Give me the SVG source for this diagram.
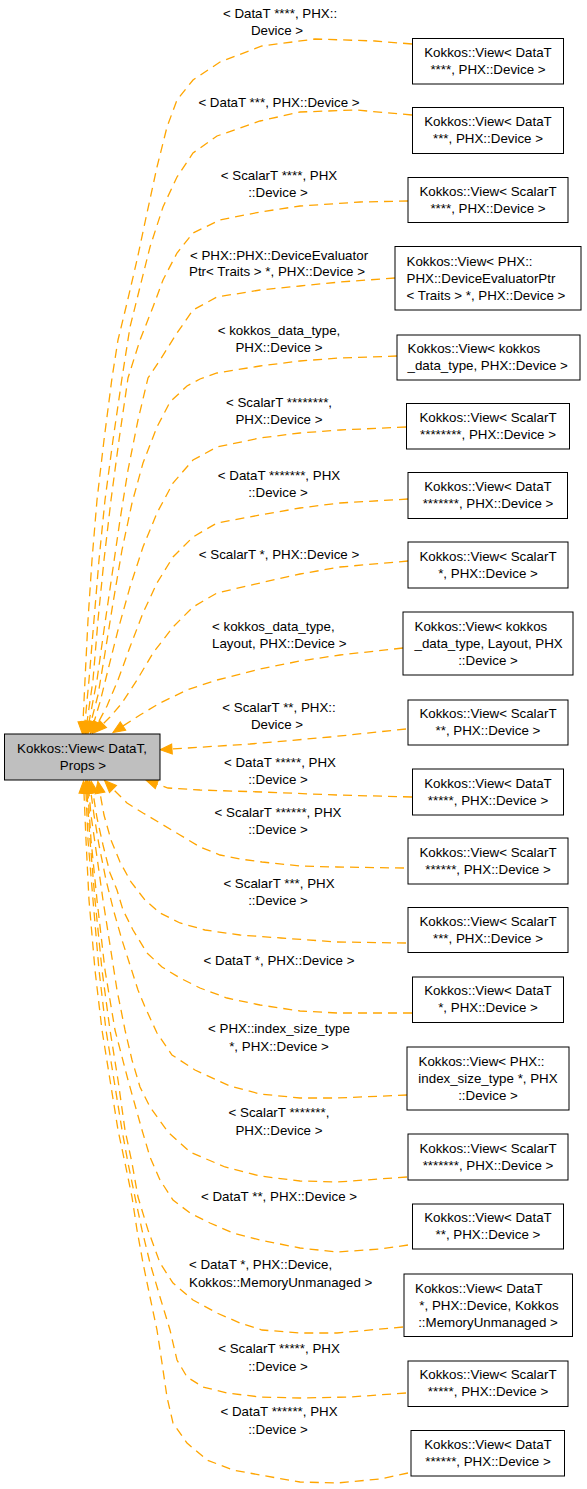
<svg xmlns="http://www.w3.org/2000/svg" width="587" height="1489" viewBox="0 0 587 1489">
<style>
text{font-family:"Liberation Sans",Arial,Helvetica,sans-serif;font-size:13.33px;fill:#000}
.m{text-anchor:middle}
.n rect{fill:#fff;stroke:#000;stroke-width:1}
#main rect{fill:#bfbfbf}
.e{fill:none;stroke:#FFA500;stroke-width:1.3;stroke-dasharray:9,6;marker-end:url(#ah)}
</style>
<defs>
<marker id="ah" markerWidth="13" markerHeight="10" refX="0" refY="5" orient="auto" markerUnits="userSpaceOnUse" overflow="visible">
<path d="M0,0L12,5L0,10z" fill="#FFA500" stroke="#FFA500" stroke-width="1"/>
</marker>
</defs>
<rect width="587" height="1489" fill="#fff"/>
<g id="edges">
<polyline class="e" points="412,44 375,41 315,39 262,46 220,62 193,80 177,100 167,127 157,167 147,213 137,260 127,303 118,340 112,378 104,440 97,500 92,560 88,620 85,680 83,722"/>
<polyline class="e" points="412,115 356,110 300,112 260,121 217,136 193,153 177,177 163,207 150,247 140,287 130,327 122,378 113,440 105,500 99,560 94,620 89,680 85,722"/>
<polyline class="e" points="408,201 360,202 300,206 260,212 220,220 193,233 177,253 163,280 153,307 140,340 128,378 119,440 111,500 104,560 98,620 93,680 87,722"/>
<polyline class="e" points="395,278 340,282 300,286 260,290 217,297 193,310 177,333 160,360 148,378 138,420 128,470 120,520 112,575 104,630 97,680 89,722"/>
<polyline class="e" points="397,356 340,358 300,361 260,366 217,373 200,379 187,386 170,402 157,427 143,463 132,503 122,550 113,603 105,653 98,695 91,722"/>
<polyline class="e" points="406,427 340,430 300,433 260,438 217,447 193,460 173,483 157,513 143,547 130,587 118,630 108,670 100,702 94,722"/>
<polyline class="e" points="408,499 340,503 300,508 260,515 217,523 193,537 173,557 157,583 143,613 130,647 118,680 107,706 98,723"/>
<polyline class="e" points="408,561 340,567 300,574 260,583 217,593 193,607 173,627 153,653 137,680 122,703 110,717 103,724"/>
<polyline class="e" points="403,648 340,655 300,661 260,669 217,680 187,690 160,703 140,715 123,726"/>
<polyline class="e" points="406,729 330,737 250,744 172,749"/>
<polyline class="e" points="412,797 337,795 262,792 200,790 168,788 157,784"/>
<polyline class="e" points="404,868 337,867 300,866 262,862 240,859 220,855 200,847 180,835 160,823 143,813 127,803 113,789"/>
<polyline class="e" points="406,943 337,942 281,938 240,935 205,930 180,923 160,913 145,900 131,882 120,862 111,840 104,815 100,793"/>
<polyline class="e" points="412,1013 337,1013 300,1011 260,1005 227,998 200,988 180,978 162,967 147,953 133,930 123,910 117,890 110,873 103,845 97,818 93,793"/>
<polyline class="e" points="407,1095 337,1098 300,1098 260,1094 230,1086 195,1070 172,1055 157,1033 145,1007 138,990 130,965 122,940 114,912 106,880 99,845 94,815 91,793"/>
<polyline class="e" points="407,1177 337,1182 300,1181 260,1176 225,1167 190,1152 168,1132 150,1107 140,1087 132,1060 125,1030 117,990 110,945 103,900 96,850 91,815 89,793"/>
<polyline class="e" points="408,1245 380,1249 337,1252 300,1248 260,1240 233,1233 210,1223 190,1213 173,1200 160,1180 150,1157 142,1130 128,1080 115,1030 105,970 97,900 91,840 88,793"/>
<polyline class="e" points="403,1327 337,1333 300,1333 262,1330 240,1323 217,1313 193,1300 173,1283 160,1263 148,1230 138,1197 132,1163 125,1130 118,1080 110,1030 102,970 95,900 90,840 87,793"/>
<polyline class="e" points="406,1393 350,1397 300,1398 260,1397 227,1393 203,1387 187,1377 177,1360 170,1330 160,1297 150,1263 142,1230 135,1197 128,1163 122,1130 114,1080 106,1030 99,970 93,900 88,840 86,793"/>
<polyline class="e" points="408,1473 380,1479 337,1483 300,1482 260,1475 233,1470 207,1460 187,1443 173,1423 167,1397 162,1363 157,1330 150,1297 143,1263 137,1230 132,1197 125,1163 118,1130 110,1080 102,1030 95,970 89,900 86,840 84,793"/>
</g>
<g id="labels">
<text class="m" x="280" y="18">&lt; DataT ****, PHX::</text><text class="m" x="277" y="35">Device &gt;</text>
<text class="m" x="279" y="107">&lt; DataT ***, PHX::Device &gt;</text>
<text class="m" x="279" y="180">&lt; ScalarT ****, PHX</text><text class="m" x="278" y="197">::Device &gt;</text>
<text class="m" x="279" y="260">&lt; PHX::PHX::DeviceEvaluator</text><text class="m" x="277" y="276">Ptr&lt; Traits &gt; *, PHX::Device &gt;</text>
<text class="m" x="279" y="335">&lt; kokkos_data_type,</text><text class="m" x="279" y="352">PHX::Device &gt;</text>
<text class="m" x="279" y="407">&lt; ScalarT ********,</text><text class="m" x="279" y="424">PHX::Device &gt;</text>
<text class="m" x="279" y="480">&lt; DataT *******, PHX</text><text class="m" x="278" y="497">::Device &gt;</text>
<text class="m" x="279" y="559">&lt; ScalarT *, PHX::Device &gt;</text>
<text x="212" y="631">&lt; kokkos_data_type,</text><text x="212" y="648">Layout, PHX::Device &gt;</text>
<text class="m" x="279" y="712">&lt; ScalarT **, PHX::</text><text class="m" x="277" y="729">Device &gt;</text>
<text class="m" x="280" y="767">&lt; DataT *****, PHX</text><text class="m" x="278" y="784">::Device &gt;</text>
<text class="m" x="278" y="817">&lt; ScalarT ******, PHX</text><text class="m" x="278" y="834">::Device &gt;</text>
<text class="m" x="279" y="888">&lt; ScalarT ***, PHX</text><text class="m" x="278" y="905">::Device &gt;</text>
<text class="m" x="279" y="965">&lt; DataT *, PHX::Device &gt;</text>
<text class="m" x="279" y="1033">&lt; PHX::index_size_type</text><text class="m" x="279" y="1051">*, PHX::Device &gt;</text>
<text class="m" x="279" y="1117">&lt; ScalarT *******,</text><text class="m" x="279" y="1135">PHX::Device &gt;</text>
<text class="m" x="279" y="1201">&lt; DataT **, PHX::Device &gt;</text>
<text x="189" y="1269">&lt; DataT *, PHX::Device,</text><text x="189" y="1287">Kokkos::MemoryUnmanaged &gt;</text>
<text class="m" x="279" y="1353">&lt; ScalarT *****, PHX</text><text class="m" x="278" y="1371">::Device &gt;</text>
<text class="m" x="279" y="1416">&lt; DataT ******, PHX</text><text class="m" x="278" y="1434">::Device &gt;</text>
</g>
<g id="main" class="n"><rect x="4.5" y="734" width="155.5" height="46"/><text class="m" x="82" y="752.5">Kokkos::View&lt; DataT,</text><text class="m" x="83" y="769.5">Props &gt;</text></g>
<g id="n1" class="n"><rect x="412.5" y="38.5" width="151" height="45.5"/><text class="m" x="488" y="57">Kokkos::View&lt; DataT</text><text class="m" x="488" y="74">****, PHX::Device &gt;</text></g>
<g id="n2" class="n"><rect x="412.5" y="107.5" width="151" height="46"/><text class="m" x="488" y="126">Kokkos::View&lt; DataT</text><text class="m" x="488" y="143">***, PHX::Device &gt;</text></g>
<g id="n3" class="n"><rect x="408" y="177.5" width="160" height="45"/><text class="m" x="488" y="195.5">Kokkos::View&lt; ScalarT</text><text class="m" x="488" y="212.5">****, PHX::Device &gt;</text></g>
<g id="n4" class="n"><rect x="395" y="246.5" width="186" height="63.5"/><text x="406.5" y="265.5">Kokkos::View&lt; PHX::</text><text x="406.5" y="282.5">PHX::DeviceEvaluatorPtr</text><text x="406.5" y="299.5">&lt; Traits &gt; *, PHX::Device &gt;</text></g>
<g id="n5" class="n"><rect x="397" y="335" width="183" height="45"/><text x="407.5" y="353">Kokkos::View&lt; kokkos</text><text x="407.5" y="370">_data_type, PHX::Device &gt;</text></g>
<g id="n6" class="n"><rect x="406.5" y="403.5" width="163" height="45.5"/><text class="m" x="488" y="421.5">Kokkos::View&lt; ScalarT</text><text class="m" x="488" y="438.5">********, PHX::Device &gt;</text></g>
<g id="n7" class="n"><rect x="408" y="472.5" width="159.5" height="46"/><text class="m" x="488" y="491">Kokkos::View&lt; DataT</text><text class="m" x="488" y="508">*******, PHX::Device &gt;</text></g>
<g id="n8" class="n"><rect x="408" y="542" width="160" height="46"/><text class="m" x="488" y="560.5">Kokkos::View&lt; ScalarT</text><text class="m" x="488" y="577.5">*, PHX::Device &gt;</text></g>
<g id="n9" class="n"><rect x="403" y="612" width="170" height="63"/><text x="414.5" y="631">Kokkos::View&lt; kokkos</text><text x="414.5" y="648">_data_type, Layout, PHX</text><text class="m" x="488" y="665">::Device &gt;</text></g>
<g id="n10" class="n"><rect x="408" y="700" width="160" height="45"/><text class="m" x="488" y="718">Kokkos::View&lt; ScalarT</text><text class="m" x="488" y="735">**, PHX::Device &gt;</text></g>
<g id="n11" class="n"><rect x="412.5" y="769" width="151" height="46"/><text class="m" x="488" y="787.5">Kokkos::View&lt; DataT</text><text class="m" x="488" y="804.5">*****, PHX::Device &gt;</text></g>
<g id="n12" class="n"><rect x="408" y="838" width="160" height="46"/><text class="m" x="488" y="856.5">Kokkos::View&lt; ScalarT</text><text class="m" x="488" y="873.5">******, PHX::Device &gt;</text></g>
<g id="n13" class="n"><rect x="408" y="907.5" width="160" height="45"/><text class="m" x="488" y="925.5">Kokkos::View&lt; ScalarT</text><text class="m" x="488" y="942.5">***, PHX::Device &gt;</text></g>
<g id="n14" class="n"><rect x="412.5" y="977" width="151" height="45.5"/><text class="m" x="488" y="995">Kokkos::View&lt; DataT</text><text class="m" x="488" y="1012">*, PHX::Device &gt;</text></g>
<g id="n15" class="n"><rect x="407" y="1047" width="162" height="63"/><text x="418.5" y="1066">Kokkos::View&lt; PHX::</text><text class="m" x="488" y="1083">index_size_type *, PHX</text><text class="m" x="488" y="1100">::Device &gt;</text></g>
<g id="n16" class="n"><rect x="408" y="1134" width="160" height="46"/><text class="m" x="488" y="1152.5">Kokkos::View&lt; ScalarT</text><text class="m" x="488" y="1169.5">*******, PHX::Device &gt;</text></g>
<g id="n17" class="n"><rect x="412.5" y="1204" width="151" height="45"/><text class="m" x="488" y="1222">Kokkos::View&lt; DataT</text><text class="m" x="488" y="1239">**, PHX::Device &gt;</text></g>
<g id="n18" class="n"><rect x="404" y="1274" width="168.5" height="62.5"/><text x="415" y="1292.5">Kokkos::View&lt; DataT</text><text class="m" x="489" y="1309.5"> *, PHX::Device, Kokkos</text><text class="m" x="488" y="1326.5">::MemoryUnmanaged &gt;</text></g>
<g id="n19" class="n"><rect x="408" y="1361" width="160" height="45.5"/><text class="m" x="488" y="1379">Kokkos::View&lt; ScalarT</text><text class="m" x="488" y="1396">*****, PHX::Device &gt;</text></g>
<g id="n20" class="n"><rect x="411" y="1430.5" width="153.5" height="45.5"/><text class="m" x="488" y="1448.5">Kokkos::View&lt; DataT</text><text class="m" x="488" y="1465.5">******, PHX::Device &gt;</text></g>
</svg>
